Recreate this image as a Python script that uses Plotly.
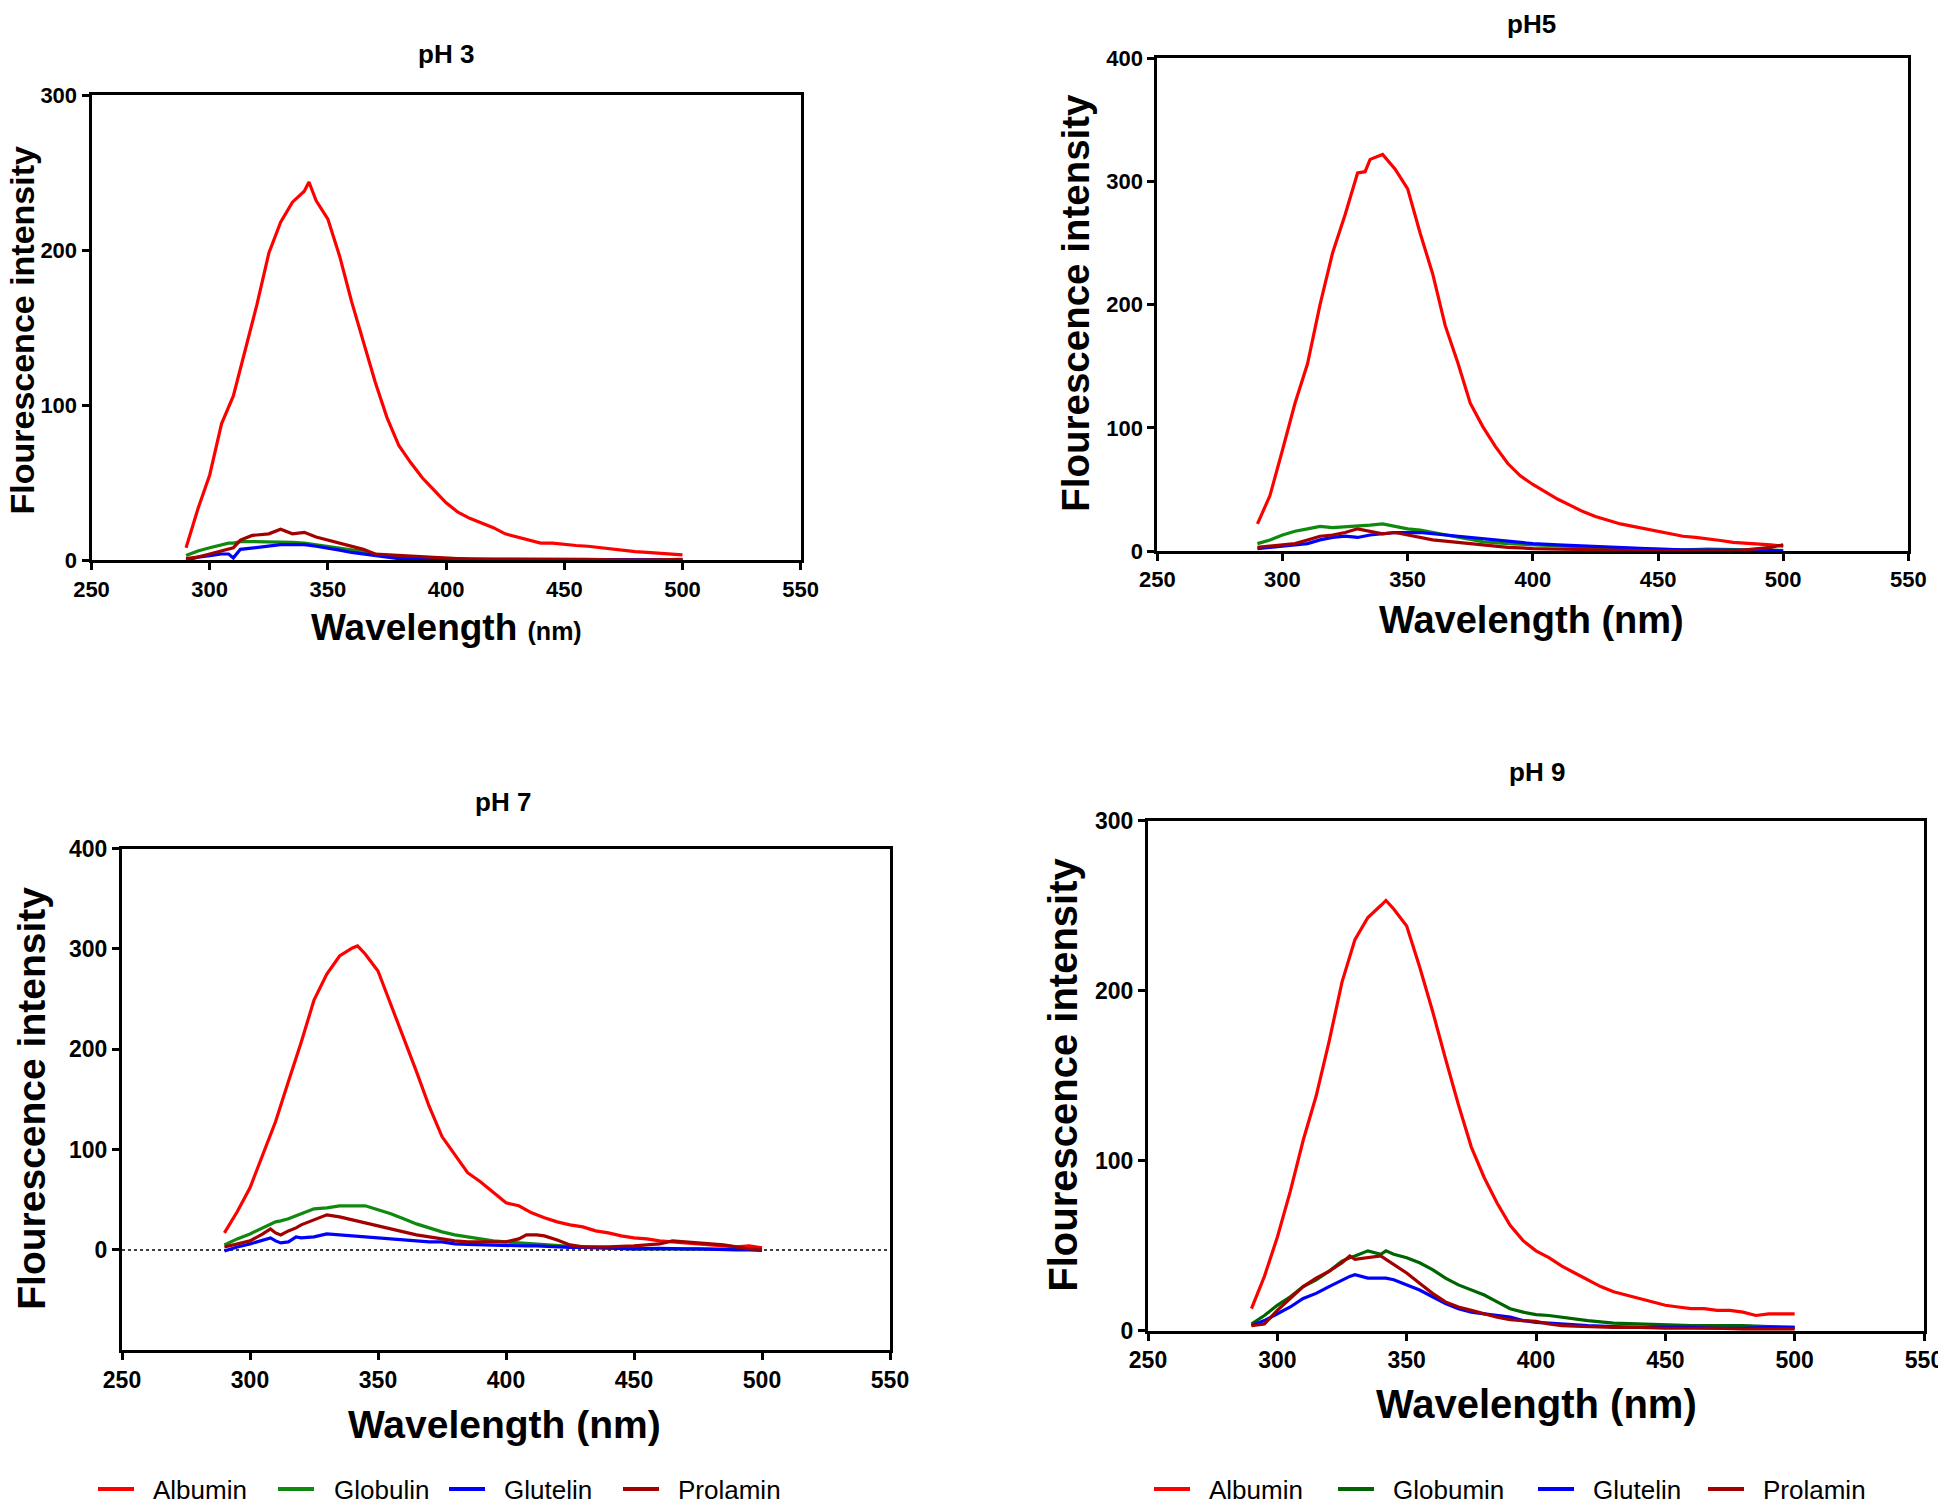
import plotly.graph_objects as go

# wavelength grids (nm) and intensities
wl_ph3 = [290, 295, 300, 305, 310, 315, 320, 325, 330, 335, 340, 342, 345, 350, 355, 360, 365, 370, 375, 380,
          385, 390, 395, 400, 405, 410, 415, 420, 425, 430, 435, 440, 445, 450, 455, 460, 465, 470, 475, 480,
          485, 490, 495, 500]
alb_ph3 = [8, 33, 55, 88, 106, 135, 165, 198, 218, 231, 238, 244, 232, 220, 196, 167, 141, 115, 92, 74,
           63, 53, 45, 37, 31, 27, 24, 21, 17, 15, 13, 11, 11, 10, 9.5, 9, 8, 7, 6, 5.5,
           5, 4.5, 4, 3.5]

wl_ph3_s = [290, 295, 300, 305, 308, 310, 313, 318, 325, 330, 335, 340, 345, 350, 355, 360, 365, 370, 380, 390,
            400, 410, 420, 430, 440, 450, 460, 470, 480, 490, 500]
glo_ph3 = [3, 6, 8, 10, 11, 11, 12, 12, 12, 12, 11.5, 11, 10, 9, 8, 7, 5.5, 4, 2, 1.5,
           1, 0.8, 0.6, 0.5, 0.5, 0.5, 0.4, 0.4, 0.3, 0.3, 0.3]
glu_ph3 = [0, 2, 3, 4, 4, 1.5, 7, 8, 9, 10, 10, 10, 9, 8, 6.5, 5, 4, 3, 1, 0.8,
           0.5, 0.5, 0.5, 0.5, 0.5, 0.4, 0.3, 0.3, 0.3, 0.2, 0.2]
pro_ph3 = [1, 2, 4, 6, 7, 8, 13, 16, 17, 20, 17, 18, 15, 13, 11, 9, 7, 4, 3, 2,
           1, 0.5, 0.5, 0.5, 0.5, 1, 0.5, 0.3, 0, 0.3, 0.5]

wl_ph5 = [290, 295, 300, 305, 310, 315, 320, 325, 330, 333, 335, 340, 345, 350, 355, 360, 365, 370, 375, 380,
          385, 390, 395, 400, 405, 410, 415, 420, 425, 430, 435, 440, 445, 450, 455, 460, 465, 470, 475, 480,
          485, 490, 495, 500]
alb_ph5 = [22, 45, 82, 120, 152, 200, 242, 273, 307, 308, 318, 322, 310, 294, 258, 225, 183, 153, 120, 101,
           85, 71, 61, 54, 48, 42, 37, 32, 28, 25, 22, 20, 18, 16, 14, 12, 11, 10, 8.5, 7,
           6.5, 6, 5, 4]

wl_ph5_s = [290, 295, 300, 305, 310, 315, 320, 325, 330, 335, 340, 345, 350, 355, 360, 365, 370, 375, 380, 390,
            400, 410, 420, 430, 440, 450, 460, 470, 480, 490, 495, 500]
glo_ph5 = [6, 9, 13, 16, 18, 20, 19, 19.5, 20, 21, 22, 20, 18, 17, 15, 13, 11, 9, 7.5, 6,
           5, 4, 3, 2.5, 2, 1.5, 1, 1.5, 1, 1, 0.8, 0.5]
glu_ph5 = [2, 3, 4, 5, 6, 9, 11, 12, 11, 13, 14, 15, 15, 15, 14, 13, 12, 11, 10, 8,
           6, 5, 4, 3, 2, 1.5, 1, 1, 0.5, 1, 0.5, 0]
pro_ph5 = [3, 4, 5, 6, 9, 12, 13, 15, 18, 16, 14, 15, 13, 11, 9, 8, 7, 6, 5, 3,
           2, 1.5, 1, 0.5, 0.5, 0, 0, 0, 0, 2, 3, 5]

wl_ph7 = [290, 295, 300, 305, 310, 315, 320, 325, 330, 335, 340, 342, 345, 350, 355, 360, 365, 370, 375, 380,
          385, 390, 395, 400, 405, 410, 415, 420, 425, 430, 435, 440, 445, 450, 455, 460, 465, 470, 475, 480,
          485, 490, 495, 500]
alb_ph7 = [17, 38, 62, 95, 128, 168, 207, 249, 275, 293, 301, 303, 295, 278, 245, 213, 178, 143, 113, 95,
           77, 68, 57, 47, 44, 37, 32, 28, 25, 23, 19, 17, 14, 12, 11, 9, 8, 7, 6, 5,
           4, 3, 4, 2]

wl_ph7_s = [290, 295, 300, 305, 308, 310, 312, 315, 318, 320, 325, 330, 335, 340, 345, 350, 355, 360, 365, 370,
            375, 380, 385, 390, 395, 400, 405, 408, 412, 415, 420, 425, 430, 440, 450, 460, 465, 470, 475, 480,
            485, 490, 495, 500]
glo_ph7 = [5, 11, 16, 22, 25, 28, 29, 31, 34, 36, 41, 42, 44, 44, 44, 40, 36, 31, 26, 22,
           18, 15, 13, 11, 9, 8, 7, 6.5, 6, 5.5, 4.5, 3.5, 3, 2, 1, 1, 1, 0.5, 0.5, 1,
           0.8, 0.5, 0.5, 0.5]
glu_ph7 = [-1, 3, 6, 10, 12, 9, 7, 8, 13, 12, 13, 16, 15, 14, 13, 12, 11, 10, 9, 8,
           8, 6, 5.5, 5, 4.5, 4.5, 4, 4, 4, 3.5, 3, 2.5, 2.5, 2, 1, 1.5, 1, 1, 1, 0.5,
           0.5, 0, 0, -0.5]
pro_ph7 = [3, 6, 9, 16, 21, 17, 15, 19, 22, 25, 30, 35, 33, 30, 27, 24, 21, 18, 15, 13,
           11, 9, 8, 8, 8, 8, 11, 15, 15, 14, 10, 5, 3, 3, 4, 6, 9, 8, 7, 6,
           5, 3, 1, 0.5]

wl_ph9 = [290, 295, 300, 305, 310, 315, 320, 325, 330, 335, 340, 342, 345, 350, 355, 360, 365, 370, 375, 380,
          385, 390, 395, 400, 405, 410, 415, 420, 425, 430, 435, 440, 445, 450, 455, 460, 465, 470, 475, 480,
          485, 490, 495, 500]
alb_ph9 = [13, 32, 55, 82, 112, 138, 170, 205, 230, 243, 250, 253, 248, 238, 214, 188, 160, 133, 108, 90,
           75, 62, 53, 47, 43, 38, 34, 30, 26, 23, 21, 19, 17, 15, 14, 13, 13, 12, 12, 11,
           9, 10, 10, 10]

wl_ph9_s = [290, 295, 300, 305, 310, 315, 320, 325, 328, 330, 335, 340, 342, 345, 350, 355, 360, 365, 370, 375,
            380, 385, 390, 395, 400, 405, 410, 415, 420, 430, 440, 450, 460, 470, 480, 490, 500]
glo_ph9 = [4, 9, 15, 20, 26, 30, 35, 41, 43, 44, 47, 45, 47, 45, 43, 40, 36, 31, 27, 24,
           21, 17, 13, 11, 9.5, 9, 8, 7, 6, 4.5, 4, 3.5, 3, 3, 3, 2.5, 2]
glu_ph9 = [3, 6, 10, 14, 19, 22, 26, 30, 32, 33, 31, 31, 31, 30, 27, 24, 20, 16, 13, 11,
           10, 9, 8, 6, 5, 4.5, 4, 3.5, 3, 2.5, 2, 2, 2, 1.5, 1.5, 2, 2]
pro_ph9 = [3, 4, 12, 19, 26, 31, 35, 40, 44, 42, 43, 44, 42, 39, 34, 28, 22, 17, 14, 12,
           10, 8, 6.5, 6, 5.5, 4, 3, 2.8, 2.5, 2, 2, 1.5, 1.5, 1.5, 1, 1, 1]

names_ph7 = ["Albumin", "Globulin", "Glutelin", "Prolamin"]
names_ph9 = ["Albumin", "Globumin", "Glutelin", "Prolamin"]

RED = "#ff0000"
GREEN = "#0f8a0f"
DKGREEN = "#006400"
BLUE = "#0000ff"
DKRED = "#a30000"

W, H = 1946, 1507
OFF = 8  # the page body puts the plot 8 px in from the top-left corner
FONT = "Liberation Sans, Arial, sans-serif"

fig = go.Figure()


def fx(p):
    return (p - OFF) / W


def fy(p):
    return 1 - (p - OFF) / H


# panel layout in page pixels: left, right, top, bottom
panels = [
    dict(ax="", box=(91.5, 800.7, 95.2, 560.2), yr=[0, 300], yt=[0, 100, 200, 300], fs=22),
    dict(ax="2", box=(1157.3, 1908.4, 58.4, 551.0), yr=[0, 400], yt=[0, 100, 200, 300, 400], fs=22),
    dict(ax="3", box=(122.0, 890.0, 848.6, 1350.3), yr=[-100, 400], yt=[0, 100, 200, 300, 400], fs=23),
    dict(ax="4", box=(1148.0, 1924.0, 820.5, 1330.8), yr=[0, 300], yt=[0, 100, 200, 300], fs=23),
]

series = [
    [(wl_ph3, alb_ph3, RED), (wl_ph3_s, glo_ph3, GREEN), (wl_ph3_s, glu_ph3, BLUE), (wl_ph3_s, pro_ph3, DKRED)],
    [(wl_ph5, alb_ph5, RED), (wl_ph5_s, glo_ph5, GREEN), (wl_ph5_s, glu_ph5, BLUE), (wl_ph5_s, pro_ph5, DKRED)],
    [(wl_ph7, alb_ph7, RED), (wl_ph7_s, glo_ph7, GREEN), (wl_ph7_s, glu_ph7, BLUE), (wl_ph7_s, pro_ph7, DKRED)],
    [(wl_ph9, alb_ph9, RED), (wl_ph9_s, glo_ph9, DKGREEN), (wl_ph9_s, glu_ph9, BLUE), (wl_ph9_s, pro_ph9, DKRED)],
]

for i, (p, ser) in enumerate(zip(panels, series)):
    a = p["ax"]
    for j, (xs, ys, col) in enumerate(ser):
        fig.add_trace(go.Scatter(x=xs, y=ys, mode="lines", line=dict(color=col, width=3.2),
                                 xaxis="x" + a, yaxis="y" + a, showlegend=False,
                                 name=(names_ph9 if i == 3 else names_ph7)[j]))
    l, r, t, b = p["box"]
    common = dict(showline=True, linecolor="black", linewidth=3, mirror=True, showgrid=False,
                  zeroline=False, ticks="outside", ticklen=7, tickwidth=3, tickcolor="black",
                  automargin=False,
                  tickfont=dict(family=FONT, size=p["fs"], color="black", weight="bold"))
    fig.update_layout(**{
        "xaxis" + a: dict(domain=[fx(l), fx(r)], range=[250, 550], tickvals=[250, 300, 350, 400, 450, 500, 550],
                          anchor="y" + a, **common),
        "yaxis" + a: dict(domain=[fy(b), fy(t)], range=p["yr"], tickvals=p["yt"],
                          anchor="x" + a, **common),
    })

# dotted zero line on the pH 7 panel
fig.add_shape(type="line", xref="x3 domain", yref="y3", x0=0, x1=1, y0=0, y1=0,
              line=dict(color="black", width=1.5, dash="dot"), layer="below")

ann = []


def text_at(k, txt, x, y, size, angle=0, anchor="center"):
    # place text at page pixel (x, y), referenced to panel k's axis domain
    p = panels[k]
    l, r, t, b = p["box"]
    a = p["ax"]
    ann.append(dict(text=txt, x=(x - l) / (r - l), y=(b - y) / (b - t),
                    xref="x%s domain" % a, yref="y%s domain" % a, showarrow=False,
                    xanchor=anchor, yanchor="middle", textangle=angle,
                    font=dict(family=FONT, size=size, color="black")))


titles = [("pH 3", 445.6, 53.7), ("pH5", 1531, 24), ("pH 7", 503.4, 802), ("pH 9", 1537, 771.7)]
for k, (txt, x, y) in enumerate(titles):
    text_at(k, "<b>%s</b>" % txt, x, y, 26)

xtitles = [("<b>Wavelength</b> <span style='font-size:25px'><b>(nm)</b></span>", 446, 627, 37),
           ("<b>Wavelength (nm)</b>", 1531, 620, 38),
           ("<b>Wavelength (nm)</b>", 504.6, 1424.5, 39),
           ("<b>Wavelength (nm)</b>", 1536.8, 1404, 40)]
for k, (txt, x, y, s) in enumerate(xtitles):
    text_at(k, txt, x, y, s)

ytitles = [(21, 330.5, 34), (1074.7, 303, 38.5), (32, 1098.7, 39), (1063, 1074.7, 40)]
for k, (x, y, s) in enumerate(ytitles):
    text_at(k, "<b>Flourescence intensity</b>", x, y, s, angle=-90)

# legends under the two bottom panels: key line start and text start in page pixels
legend_rows = [
    (2, names_ph7, [RED, GREEN, BLUE, DKRED], [98, 278, 449, 623], [153, 334, 504, 678], 1489),
    (3, names_ph9, [RED, DKGREEN, BLUE, DKRED], [1154, 1338, 1538, 1708], [1209, 1393, 1593, 1763], 1489),
]
for k, names, cols, lx, tx, y in legend_rows:
    for nm, col, x0, x1 in zip(names, cols, lx, tx):
        fig.add_shape(type="line", xref="paper", yref="paper", x0=fx(x0), x1=fx(x0 + 36),
                      y0=fy(y), y1=fy(y), line=dict(color=col, width=4))
        text_at(k, nm, x1 - 2, y + 1, 26, anchor="left")

fig.update_layout(
    width=W, height=H,
    margin=dict(l=0, r=0, t=0, b=0),
    plot_bgcolor="white", paper_bgcolor="white",
    annotations=ann,
    showlegend=False,
)

fig.write_html("out.html")
